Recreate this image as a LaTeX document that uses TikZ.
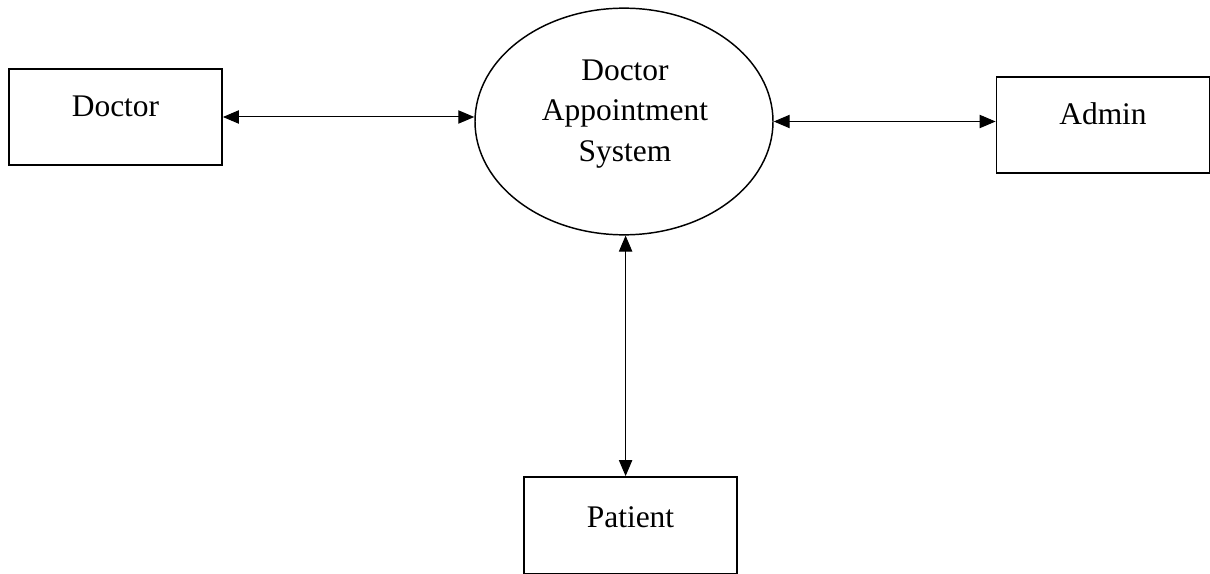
\documentclass[tikz,border=0pt]{standalone}
\usepackage{fontspec}
\setmainfont{Liberation Serif}
\usetikzlibrary{arrows.meta,shapes.geometric}
\begin{document}
\begin{tikzpicture}[x=0.75pt,y=-0.75pt,
  entity/.style={draw,line width=1.1pt,minimum width=160pt,minimum height=72pt,inner sep=0pt},
  proc/.style={draw,ellipse,line width=1.1pt,minimum width=223.5pt,minimum height=170pt,inner sep=0pt},
  lbl/.style={font=\fontsize{23.6pt}{30pt}\selectfont,anchor=base,inner sep=0pt},
  flow/.style={line width=0.75pt,{Triangle[length=12pt,width=10pt]}-{Triangle[length=12pt,width=10pt]}}]
\useasboundingbox (0,0) rectangle (1210,574);
\node[entity] (doc) at (115.5,117) {};
\node[lbl] (doct) at (115.5,117) {Doctor};
\node[entity] (adm) at (1103,125) {};
\node[lbl] (admt) at (1103,125) {Admin};
\node[entity,minimum height=73pt] (pat) at (630.5,525.5) {};
\node[lbl] (patt) at (630.5,527) {Patient};
\node[proc] (sys) at (624,121.5) {};
\node[lbl] (s1) at (625,81) {Doctor};
\node[lbl] (s2) at (625,121) {Appointment};
\node[lbl] (s3) at (625,162) {System};
\draw[flow] (doc.east) -- (doc.east -| sys.west);
\draw[flow] (sys.east) -- (sys.east -| adm.west);
\draw[flow] ([xshift=1.2pt]sys.south) -- ([xshift=1.2pt]sys.south |- pat.north);
\end{tikzpicture}
\end{document}
